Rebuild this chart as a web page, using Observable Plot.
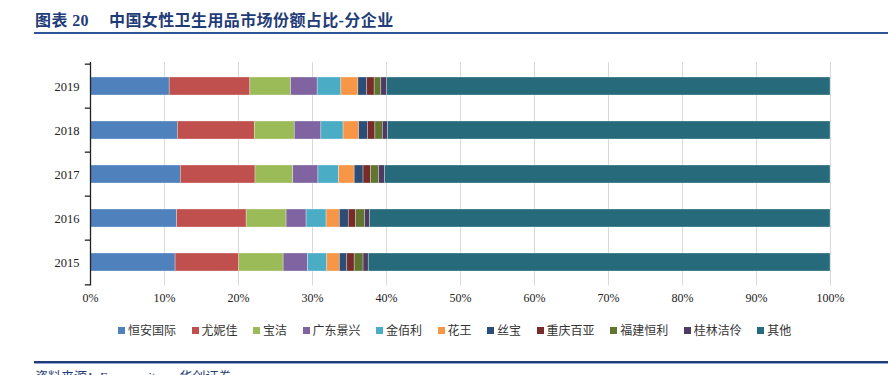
<!DOCTYPE html>
<html>
<head>
<meta charset="utf-8">
<script src="https://cdn.jsdelivr.net/npm/d3@7"></script>
<script src="https://cdn.jsdelivr.net/npm/@observablehq/plot@0.6"></script>
<style>
  html, body { margin: 0; padding: 0; background: #fff; }
  body { width: 888px; height: 375px; position: relative; overflow: hidden; }
  #title { position: absolute; left: 35px; top: 11px; font-family: "Liberation Serif", "Noto Sans CJK SC", serif; font-weight: bold; font-size: 16px; line-height: 20px; color: #1F3C78; letter-spacing: 0.4px; white-space: nowrap; }
  #title .gap { display: inline-block; width: 20px; }
  #tline { position: absolute; left: 34px; top: 32px; width: 854px; height: 2px; background: #2E5597; }
  #chart { position: absolute; left: 0; top: 40px; }
  #legend { position: absolute; left: 118px; top: 321px; display: flex; gap: 15.5px; font-family: "Noto Sans CJK SC", sans-serif; font-size: 12px; line-height: 18px; color: #333; white-space: nowrap; }
  #legend .item { display: flex; align-items: center; }
  #legend .sw { width: 7px; height: 7px; margin-right: 3px; }
  #bline1 { position: absolute; left: 34px; top: 361px; width: 854px; height: 2px; background: #1F3C78; }
  #bline2 { position: absolute; left: 34px; top: 363px; width: 854px; height: 1px; background: #8FA8D6; }
  #source { position: absolute; left: 35px; top: 369px; font-family: "Liberation Serif", "Noto Sans CJK SC", serif; font-size: 13px; line-height: 16px; color: #1F3C78; white-space: nowrap; }
</style>
</head>
<body>
<div id="title">图表 20<span class="gap"></span>中国女性卫生用品市场份额占比-分企业</div>
<div id="tline"></div>
<div id="chart"></div>
<div id="legend"></div>
<div id="bline1"></div>
<div id="bline2"></div>
<div id="source">资料来源：Euromonitor，华创证券</div>
<script>
const years = ["2019", "2018", "2017", "2016", "2015"];
const companies = ["恒安国际", "尤妮佳", "宝洁", "广东景兴", "金佰利", "花王", "丝宝", "重庆百亚", "福建恒利", "桂林洁伶", "其他"];
const colors = ["#4F81BD", "#C0504D", "#9BBB59", "#8064A2", "#4BACC6", "#F79646", "#2C4D75", "#772C2A", "#5F7530", "#4D3B62", "#276A7C"];
const shares2019 = [10.7, 10.9, 5.5, 3.6, 3.2, 2.3, 1.2, 1.0, 0.9, 0.8, 59.9];
const shares2018 = [11.8, 10.4, 5.4, 3.6, 3.0, 2.1, 1.2, 1.0, 1.0, 0.7, 59.8];
const shares2017 = [12.2, 10.1, 5.1, 3.4, 2.8, 2.1, 1.2, 1.0, 1.1, 0.8, 60.2];
const shares2016 = [11.7, 9.4, 5.4, 2.7, 2.7, 1.8, 1.2, 1.0, 1.2, 0.7, 62.2];
const shares2015 = [11.5, 8.6, 6.0, 3.3, 2.6, 1.7, 1.0, 1.0, 1.2, 0.7, 62.4];
const xTicks = [0, 10, 20, 30, 40, 50, 60, 70, 80, 90, 100];

const byYear = {"2019": shares2019, "2018": shares2018, "2017": shares2017, "2016": shares2016, "2015": shares2015};
const rows = [];
for (const y of years) companies.forEach((c, i) => rows.push({year: y, company: c, share: byYear[y][i]}));

const W = 888, H = 275, mt = 22, mb = 29.5;
const step = (H - mt - mb) / years.length;

const chart = Plot.plot({
  width: W,
  height: H,
  marginTop: mt,
  marginBottom: mb,
  marginLeft: 90,
  marginRight: 58,
  style: {fontFamily: "'Liberation Serif', serif", color: "#222", background: "white"},
  x: {domain: [0, 100]},
  y: {domain: years, paddingInner: 0.59, paddingOuter: 0.295},
  color: {domain: companies, range: colors},
  marks: [
    Plot.ruleX(xTicks.filter(d => d > 0), {stroke: "#d9d9d9", strokeWidth: 1}),
    Plot.barX(rows, Plot.stackX({x: "share", y: "year", fill: "company", order: companies, stroke: "white", strokeWidth: 0.6, strokeOpacity: 0.5})),
    Plot.ruleX([0], {stroke: "#222", strokeWidth: 1.3}),
    Plot.ruleY(years, {y: d => d, x1: -0.7, x2: 0, dy: -step / 2, stroke: "#222", strokeWidth: 1.3}),
    Plot.ruleY(years.slice(-1), {y: d => d, x1: -0.7, x2: 0, dy: step / 2, stroke: "#222", strokeWidth: 1.3}),
    Plot.axisY({tickSize: 0, tickPadding: 11, fontSize: 12.5, label: null}),
    Plot.axisX({ticks: xTicks, tickFormat: d => d + "%", tickSize: 0, tickPadding: 7, fontSize: 12, label: null})
  ]
});
document.getElementById("chart").appendChild(chart);

const legend = document.getElementById("legend");
companies.forEach((c, i) => {
  const item = document.createElement("div");
  item.className = "item";
  const sw = document.createElement("span");
  sw.className = "sw";
  sw.style.background = colors[i];
  const t = document.createElement("span");
  t.textContent = c;
  item.appendChild(sw);
  item.appendChild(t);
  legend.appendChild(item);
});
</script>
</body>
</html>
